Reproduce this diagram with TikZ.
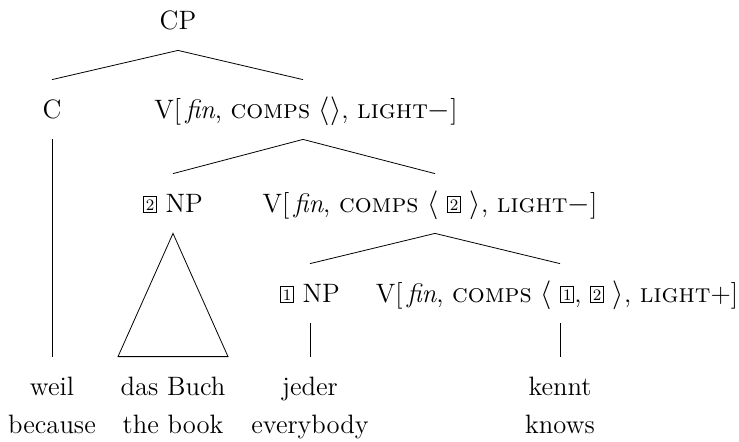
\documentclass[tikz,border=0pt]{standalone}
\usepackage{tikz}
\usetikzlibrary{positioning}
\newcommand{\tagbox}[1]{{\setlength{\fboxsep}{0pt}\setlength{\fboxrule}{0.4pt}\fbox{\makebox[6.2pt]{\rule{0pt}{7.8pt}\raisebox{1pt}{\fontsize{8}{8}\selectfont #1}}}}}
\begin{document}
\begin{tikzpicture}[x=0.5pt,y=-0.5pt,
 cat/.style={anchor=base,font=\fontsize{13.3}{16}\selectfont,text height=8.5pt,text depth=0pt,inner ysep=10.5pt,inner xsep=0pt},
 gloss/.style={anchor=base,font=\fontsize{13.3}{16}\selectfont,inner sep=0pt}]
\useasboundingbox (0,0) rectangle (739,441);
% tree
\node[cat] (cp) at (178,29) {CP};
\node[cat] (c) at (52,118) {C};
\node[cat] (v1) at (306,118) {V[\,\textit{fin}, \textsc{comps} $\langle\rangle$, \textsc{light}$-$]};
\node[cat] (np2) at (173,212) {\tagbox{2} NP};
\node[cat] (v2) at (430,212) {V[\,\textit{fin}, \textsc{comps} $\langle$ \tagbox{2} $\rangle$, \textsc{light}$-$]};
\node[cat] (np1) at (310,302) {\tagbox{1} NP};
\node[cat] (v3) at (557,302) {V[\,\textit{fin}, \textsc{comps} $\langle$ \tagbox{1}, \tagbox{2} $\rangle$, \textsc{light}+]};
% words and glosses
\node[cat] (weil) at (52,395) {weil};
\node[cat] (buch) at (173,395) {das Buch};
\node[cat] (jeder) at (310,395) {jeder};
\node[cat] (kennt) at (560,395) {kennt};
\node[below=19pt of weil.base,gloss] (because) {because};
\node[below=19pt of buch.base,gloss] (book) {the book};
\node[below=19pt of jeder.base,gloss] (everybody) {everybody};
\node[below=19pt of kennt.base,gloss] (knows) {knows};
\draw (cp.south)--(c.north); \draw (cp.south)--([xshift=-1.5pt]v1.north);
\draw ([xshift=-1.5pt]v1.south)--(np2.north); \draw ([xshift=-1.5pt]v1.south)--([xshift=2.5pt]v2.north);
\draw ([xshift=2.5pt]v2.south)--(np1.north); \draw ([xshift=2.5pt]v2.south)--([xshift=1.5pt]v3.north);
\draw (c.south)--(weil.north);
\draw (np2.south)--([xshift=-27.5pt]buch.north)--([xshift=27.5pt]buch.north)--cycle;
\draw (np1.south)--(jeder.north); \draw ([xshift=1.5pt]v3.south)--(kennt.north);
\end{tikzpicture}
\end{document}
